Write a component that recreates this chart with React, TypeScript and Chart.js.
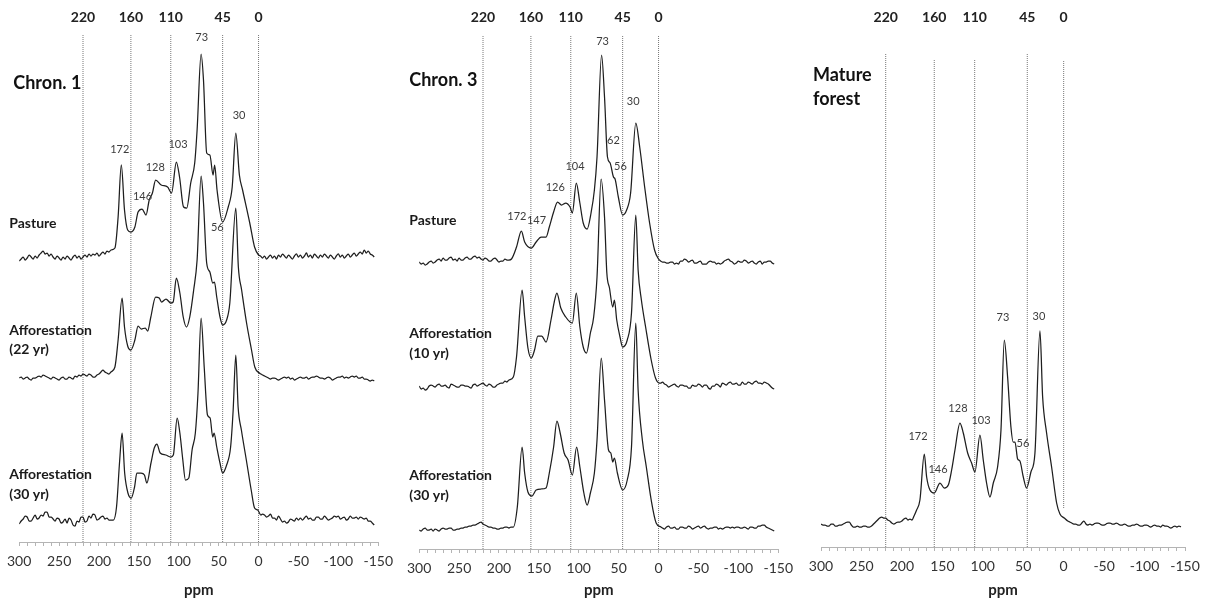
import React, { useEffect, useRef } from "react";
import { Chart, registerables } from "chart.js";

Chart.register(...registerables);

// ---------- data ----------
const markerPpm = [220, 160, 110, 45, 0];
const ppmMin = -150;
const ppmMax = 300;
const ppmStep = 10;

type Pt = [number, number]; // [ppm, intensity]

// shared baseline grids (ppm) for the flat, noisy parts of every spectrum
const baselineLeftPpm = [
  300, 297.5, 295, 292.5, 290, 287.5, 285, 282.5, 280, 277.5,
  275, 272.5, 270, 267.5, 265, 262.5, 260, 257.5, 255, 252.5,
  250, 247.5, 245, 242.5, 240, 237.5, 235, 232.5, 230, 227.5,
  225, 222.5, 220, 217.5, 215, 212.5, 210, 207.5, 205, 202.5,
  200, 197.5, 195, 192.5, 190, 187.5,
];
const baselineRightPpm = [
  -7.5, -10, -12.5, -15, -17.5, -20, -22.5, -25, -27.5, -30,
  -32.5, -35, -37.5, -40, -42.5, -45, -47.5, -50, -52.5, -55,
  -57.5, -60, -62.5, -65, -67.5, -70, -72.5, -75, -77.5, -80,
  -82.5, -85, -87.5, -90, -92.5, -95, -97.5, -100, -102.5, -105,
  -107.5, -110, -112.5, -115, -117.5, -120, -122.5, -125, -127.5, -130,
  -132.5, -135, -137.5, -140, -142.5, -145,
];

// ---- Chron. 1 / Pasture ----
const c1PastureLeft = [
  -4, -2, 0, -3, -1, 2, 0, -2, 1, -1,
  2, 4, 6, 3, 4, 1, 3, 0, -2, 1,
  -1, -3, 0, -2, 1, -1, -3, 0, 2, -1,
  1, -2, 0, 2, 0, 3, 1, 3, 2, 4,
  1, 3, 5, 3, 6, 5,
];
const c1PastureSignal: Pt[] = [
  [185, 7], [180, 9], [176, 40], [172, 92], [168, 47], [164, 27], [160, 25], [155, 30], [151, 45], [146, 48],
  [141, 42], [137, 57], [133, 64], [129, 77], [122, 72], [114, 70], [109, 64], [103, 95], [99, 80], [94, 50],
  [90, 49], [85, 74], [80, 94], [77, 127], [72, 203], [69, 177], [65, 104], [61, 102], [57, 82], [55, 92],
  [52, 67], [45, 35], [38, 50], [33, 70], [28.5, 124], [24, 82], [20, 67], [11, 34], [5, 10], [0, 2],
  [-2.5, 1], [-5, -1],
];
const c1PastureRight = [
  1, -2, 0, 2, -1, 1, -2, 2, 0, 3,
  1, -1, 2, 0, -2, 1, 3, 0, 2, -1,
  1, 4, 0, 2, -1, 3, 1, -1, 2, 0,
  3, 1, -1, 2, 0, -2, 1, 3, 0, 2,
  -1, 1, 3, 0, 2, 4, 1, 3, 5, 3,
  7, 4, 6, 3, 2, 0,
];

// ---- Chron. 1 / Afforestation (22 yr) ----
const c1Aff22Left = [
  0, 1, -1, 0, 1, -1, -2, 0, 0, 1,
  2, 1, 3, 2, 1, 0, -1, 1, 0, -1,
  -2, 0, 1, -1, -1, 1, 0, -1, 2, 1,
  3, 2, 4, 3, 2, 4, 3, 1, 1, 3,
  4, 6, 8, 6, 5, 4,
];
const c1Aff22Signal: Pt[] = [
  [185, 6], [180, 11], [176, 38], [171, 80], [168, 51], [164, 32], [160, 28], [155, 38], [151, 52], [147, 49],
  [142, 50], [139, 47], [135, 61], [129, 81], [124.5, 80], [121.5, 76], [116, 79], [110, 75], [107, 76],
  [103, 100], [98.6, 85], [94.4, 61], [90.3, 51], [86.2, 61], [81.3, 88], [77, 118], [72, 202], [69, 175],
  [65, 115], [61, 106], [57.4, 95], [55.3, 96], [52.4, 81], [48.3, 61], [45, 53], [40, 58], [36, 75],
  [28.5, 170], [25.3, 111], [21.2, 88], [15, 55], [8.8, 28], [4.7, 11], [-1, 5], [-3, 4], [-5, 3],
];
const c1Aff22Right = [
  2, 1, 0, -1, 0, 0, -1, -2, -1, 0,
  1, 0, 1, -1, 0, -2, -1, 0, 1, 0,
  0, 1, -1, 0, 1, 1, 2, 1, 0, 0,
  -1, 0, 1, 0, -2, -1, 0, 1, 1, 2,
  0, 1, 0, 1, 2, 1, 2, 0, 0, 1,
  -1, -1, -2, -3, -2, -3,
];

// ---- Chron. 1 / Afforestation (30 yr) ----
const c1Aff30Left = [
  -4, -1, 1, 4, 3, -1, -1, 2, 5, 1,
  2, 5, 4, 8, 8, 3, 3, 1, -1, 2,
  1, -3, -2, 1, -3, 2, 0, -5, -6, -1,
  -2, 3, 3, -2, -1, 4, 2, 6, 5, 0,
  1, 3, 4, 1, 2, 0,
];
const c1Aff30Signal: Pt[] = [
  [185, 0], [182, 0], [178, 13], [174, 60], [171, 87], [167.8, 47], [163.7, 27], [159.5, 22], [155.4, 33],
  [152.5, 47], [147.2, 47], [143, 45], [140, 37], [134.8, 57], [130.7, 72], [127.4, 76], [123.3, 67],
  [116.3, 65], [110, 63], [106.8, 65], [102, 102], [98.6, 87], [94.9, 60], [91.6, 40], [87.4, 42], [83.3, 70],
  [79.2, 87], [75.9, 127], [72, 202], [68.1, 153], [64, 105], [60.7, 102], [57.4, 83], [55.7, 87], [52.4, 73],
  [48.3, 57], [45, 47], [40, 55], [35, 73], [31.8, 110], [28.5, 165], [25.6, 113], [21.5, 90], [15.3, 60],
  [9.2, 30], [5, 12], [1, 10], [-3, 5], [-5, 6],
];
const c1Aff30Right = [
  5, 3, 4, 6, 2, 2, 0, 4, 1, -2,
  -1, -3, -2, 1, 0, -1, 2, 0, 2, 0,
  2, 4, 1, 2, 0, 0, 3, 3, 1, 1,
  4, 2, 0, 1, 2, 4, 3, 4, 1, 2,
  3, 0, 1, 4, 2, 2, 3, 1, 3, 2,
  1, 2, -1, -1, -3, -5,
];

// ---- Chron. 3 / Pasture ----
const c3PastureLeft = [
  0, -2, -1, -3, -2, 0, 1, -1, 0, 2,
  3, 1, 4, 2, 2, 4, 5, 2, 3, 1,
  4, 2, 2, 4, 5, 3, 3, 5, 6, 4,
  5, 3, 2, 4, 3, 1, 1, 3, 4, 2,
  0, 1, 1, 3, 2, 2,
];
const c3PastureSignal: Pt[] = [
  [184.3, 3], [178, 15], [171.9, 31], [167.8, 20], [159.5, 14], [153.4, 20], [147.2, 25], [141, 25],
  [136.9, 35], [131.5, 50], [126.6, 60], [121.6, 57], [116.3, 59], [110.9, 55], [108, 49], [103.1, 79],
  [98.6, 59], [94.4, 39], [89.5, 33], [84.6, 49], [80.4, 72], [77.1, 105], [71.4, 207], [67.7, 165],
  [64, 105], [60.7, 99], [56.5, 85], [54.5, 83], [50.4, 65], [45, 47], [40, 52], [35, 69], [28.5, 139],
  [23.6, 115], [17.4, 75], [11.2, 39], [5, 12], [0, 3], [-2.5, 1], [-5, 0],
];
const c3PastureRight = [
  0, -1, -1, 0, 0, -2, -1, -2, 1, 1,
  3, 2, 0, 1, 2, -1, -1, 0, 1, -2,
  -2, -2, 0, 1, 0, 0, -2, -1, -2, -1,
  1, 2, 3, 1, 0, -2, -1, 1, 0, 0,
  2, 1, -1, 0, 1, -1, -2, 0, 1, -2,
  0, 0, 1, 1, -1, -2,
];

// ---- Chron. 3 / Afforestation (10 yr) ----
const c3Aff10Left = [
  0, -3, -2, -4, -3, 0, 1, 0, -1, 1,
  2, 0, 0, 1, -1, -2, 2, 1, 0, -1,
  -1, 1, 1, 0, 0, -1, -2, 1, 2, 0,
  1, 2, 3, 1, 0, 2, 1, -1, -1, 1,
  2, 3, 3, 5, 4, 6,
];
const c3Aff10Signal: Pt[] = [
  [182, 9], [178, 29], [171, 96], [167.8, 69], [163.7, 38], [159.5, 28], [155.4, 36], [151.3, 50],
  [146.4, 50], [141, 44], [134.8, 66], [130.7, 84], [127.4, 93], [122.5, 78], [116.3, 69], [110.9, 64],
  [108, 63], [103.1, 93], [98.6, 59], [94.4, 39], [90.3, 33], [85.4, 53], [81.3, 69], [77.1, 109], [72, 207],
  [67.7, 169], [64.8, 113], [61.5, 98], [57.4, 79], [55.3, 86], [52.4, 66], [48.3, 49], [45, 39], [39.2, 46],
  [33.9, 73], [28.5, 171], [25.6, 116], [21.5, 86], [16.2, 59], [9.2, 26], [3.8, 8], [-1, 3], [-3, 3], [-5, 4],
];
const c3Aff10Right = [
  2, 1, -1, 0, 1, 2, 0, -1, 1, 1,
  0, 0, -2, -2, 1, 0, 0, 2, 1, -1,
  1, 1, -2, -3, 0, 0, 2, 1, -1, 3,
  2, 1, 3, 4, 2, 2, 3, 1, 1, 4,
  2, 2, 4, 3, 2, 4, 5, 3, 3, 2,
  4, 3, 2, 0, -2, -3,
];

// ---- Chron. 3 / Afforestation (30 yr) ----
const c3Aff30Left = [
  -1, -2, 0, 1, -1, -1, 0, -2, 0, -1,
  -2, 0, 1, 0, 0, 1, 1, -1, -1, 0,
  0, 1, 1, 2, 2, 3, 3, 4, 4, 5,
  6, 7, 5, 4, 3, 2, 2, 1, 1, 0,
  0, 1, 1, 2, 2, 1,
];
const c3Aff30Signal: Pt[] = [
  [185, 2], [182, 2], [177, 22], [171, 82], [167.8, 56], [163.7, 37], [158.7, 33], [153.4, 39], [147.2, 40],
  [141, 41], [136.9, 56], [131.5, 82], [127.4, 108], [123.3, 96], [118.3, 76], [113.4, 69], [108, 54],
  [102.7, 82], [98.6, 62], [93.6, 36], [89.5, 24], [85.4, 36], [80.4, 56], [77.1, 89], [71.8, 171],
  [67.7, 129], [62.7, 79], [59.8, 76], [57.4, 67], [55.3, 71], [51.6, 56], [45, 39], [39.2, 49], [33.9, 82],
  [28.5, 206], [25.6, 139], [20.3, 89], [15.3, 62], [9.2, 29], [3, 6], [-3, 2], [-5, 1],
];
const c3Aff30Right = [
  0, 2, 3, 1, 1, 2, 0, 0, 2, 2,
  1, 1, 3, 2, 0, 1, 2, 3, 1, 2,
  3, 1, 0, 1, 1, 2, 2, 0, 1, 0,
  1, 2, 2, 1, 2, 1, 2, 2, 1, 1,
  2, 1, 0, 2, 2, 1, 1, 3, 3, 4,
  4, 2, 1, 0, -1, -2,
];

// ---- Mature forest ----
const matureLeft = [
  1, 0, 0, -1, -1, 1, 1, -1, -1, 0,
  0, 1, 2, 3, 3, 0, -2, -2, -1, -2,
  -2, -1, -1, -2, -2, -1, 1, 3, 5, 7,
  8, 7, 7, 5, 4, 2, 1, 2, 3, 3,
  4, 6, 7, 5, 6, 5,
];
const matureSignal: Pt[] = [
  [185, 9], [181.8, 15], [177.7, 25], [172.3, 71], [169.4, 48], [165.3, 35], [160, 32], [152.9, 42],
  [147.6, 37], [142.6, 40], [138.5, 55], [134.4, 75], [128.2, 102], [124.1, 92], [118.7, 72], [113.8, 62],
  [109.7, 53], [103.5, 90], [99.4, 65], [95.3, 42], [91.1, 28], [87, 42], [81.7, 58], [77.5, 95], [73.4, 185],
  [69.3, 148], [65.2, 98], [62.3, 83], [60.2, 83], [56.9, 66], [54.1, 64], [49.9, 48], [45.8, 37], [40.5, 53],
  [35.5, 72], [29.3, 194], [26, 128], [21.1, 92], [14.9, 58], [8.7, 22], [4.6, 11], [-0.7, 7], [-5, 4],
];
const matureRight = [
  3, 2, 1, 1, 0, 0, 2, 4, 1, 0,
  1, 0, 1, 2, 2, 1, 0, 0, 1, 2,
  2, 1, 1, 2, 1, 0, 0, 1, 0, -1,
  -1, 0, 0, 1, 0, -1, -1, 0, 0, -1,
  -2, -1, 0, -1, -1, -2, 0, -1, -1, -2,
  -3, -2, -1, -2, -1, -2,
];

type Spectrum = { left: number[]; signal: Pt[]; right: number[] };

function spectrumPoints(s: Spectrum) {
  const pts: { x: number; y: number }[] = [];
  baselineLeftPpm.forEach((p, i) => {
    if (s.left[i] !== undefined) pts.push({ x: p, y: s.left[i] });
  });
  s.signal.forEach(([x, y]) => pts.push({ x, y }));
  baselineRightPpm.forEach((p, i) => {
    if (s.right[i] !== undefined) pts.push({ x: p, y: s.right[i] });
  });
  return pts;
}

// ---------- layout / styles ----------
const PAGE_H = 605;
const TOP_BAND = 30;
const FONT = "Lato, 'Open Sans', sans-serif";

type Kind = "title" | "sample" | "peak";
type Label = { text: string; ppm: number; h: number; kind: Kind };

interface Panel {
  id: string;
  left: number;
  width: number;
  padLeft: number;
  padRight: number;
  axisY: number;
  spectra: { spec: Spectrum; offset: number }[];
  lines: [number, number][];
  labels: Label[];
}

const panels: Panel[] = [
  {
    id: "chron1",
    left: 0,
    width: 400,
    padLeft: 18,
    padRight: 18,
    axisY: 542,
    spectra: [
      { spec: { left: c1PastureLeft, signal: c1PastureSignal, right: c1PastureRight }, offset: 285 },
      { spec: { left: c1Aff22Left, signal: c1Aff22Signal, right: c1Aff22Right }, offset: 164 },
      { spec: { left: c1Aff30Left, signal: c1Aff30Signal, right: c1Aff30Right }, offset: 22 },
    ],
    lines: [[0, 507], [0, 507], [0, 507], [0, 507], [0, 507]],
    labels: [
      { text: "Chron. 1", ppm: 307.4, h: 459, kind: "title" },
      { text: "Pasture", ppm: 312.4, h: 319, kind: "sample" },
      { text: "Afforestation", ppm: 312.4, h: 212, kind: "sample" },
      { text: "(22 yr)", ppm: 312.4, h: 193, kind: "sample" },
      { text: "Afforestation", ppm: 312.4, h: 68, kind: "sample" },
      { text: "(30 yr)", ppm: 312.4, h: 48, kind: "sample" },
      { text: "172", ppm: 173.9, h: 393, kind: "peak" },
      { text: "146", ppm: 145.5, h: 346, kind: "peak" },
      { text: "128", ppm: 129.4, h: 375, kind: "peak" },
      { text: "103", ppm: 101, h: 398, kind: "peak" },
      { text: "73", ppm: 71.3, h: 505, kind: "peak" },
      { text: "30", ppm: 24.4, h: 427, kind: "peak" },
      { text: "56", ppm: 51.6, h: 315, kind: "peak" },
    ],
  },
  {
    id: "chron3",
    left: 400,
    width: 400,
    padLeft: 18,
    padRight: 18,
    axisY: 549,
    spectra: [
      { spec: { left: c3PastureLeft, signal: c3PastureSignal, right: c3PastureRight }, offset: 287 },
      { spec: { left: c3Aff10Left, signal: c3Aff10Signal, right: c3Aff10Right }, offset: 163 },
      { spec: { left: c3Aff30Left, signal: c3Aff30Signal, right: c3Aff30Right }, offset: 20 },
    ],
    lines: [[0, 513], [0, 513], [0, 513], [0, 513], [0, 513]],
    labels: [
      { text: "Chron. 3", ppm: 312.4, h: 469, kind: "title" },
      { text: "Pasture", ppm: 312.4, h: 329, kind: "sample" },
      { text: "Afforestation", ppm: 312.4, h: 216, kind: "sample" },
      { text: "(10 yr)", ppm: 312.4, h: 196, kind: "sample" },
      { text: "Afforestation", ppm: 312.4, h: 74, kind: "sample" },
      { text: "(30 yr)", ppm: 312.4, h: 54, kind: "sample" },
      { text: "73", ppm: 70.1, h: 508, kind: "peak" },
      { text: "30", ppm: 31.8, h: 448, kind: "peak" },
      { text: "62", ppm: 56.5, h: 409, kind: "peak" },
      { text: "56", ppm: 47.8, h: 383, kind: "peak" },
      { text: "104", ppm: 104.7, h: 383, kind: "peak" },
      { text: "126", ppm: 129.4, h: 362, kind: "peak" },
      { text: "172", ppm: 177.6, h: 333, kind: "peak" },
      { text: "147", ppm: 152.9, h: 329, kind: "peak" },
    ],
  },
  {
    id: "mature",
    left: 800,
    width: 412,
    padLeft: 21,
    padRight: 27,
    axisY: 547,
    spectra: [{ spec: { left: matureLeft, signal: matureSignal, right: matureRight }, offset: 22 }],
    lines: [[0, 494], [0, 487], [0, 487], [0, 494], [39, 487]],
    labels: [
      { text: "Mature", ppm: 309.9, h: 472, kind: "title" },
      { text: "forest", ppm: 309.9, h: 448, kind: "title" },
      { text: "172", ppm: 180.1, h: 111, kind: "peak" },
      { text: "146", ppm: 155.4, h: 78, kind: "peak" },
      { text: "128", ppm: 130.7, h: 139, kind: "peak" },
      { text: "103", ppm: 102.2, h: 127, kind: "peak" },
      { text: "73", ppm: 75, h: 230, kind: "peak" },
      { text: "30", ppm: 30.5, h: 231, kind: "peak" },
      { text: "56", ppm: 50.3, h: 104, kind: "peak" },
    ],
  },
];

const labelFont: Record<Kind, string> = {
  title: `bold 18px ${FONT}`,
  sample: `bold 14px ${FONT}`,
  peak: `11px ${FONT}`,
};
const labelColor: Record<Kind, string> = {
  title: "#111",
  sample: "#1a1a1a",
  peak: "#3c3c3c",
};

function textPlugin(panel: Panel) {
  return {
    id: "panelText",
    afterDraw(chart: any) {
      const { ctx } = chart;
      const xs = chart.scales.x;
      const ys = chart.scales.y;
      ctx.save();
      for (const l of panel.labels) {
        ctx.font = labelFont[l.kind];
        ctx.fillStyle = labelColor[l.kind];
        ctx.textAlign = l.kind === "peak" ? "center" : "left";
        ctx.textBaseline = "middle";
        ctx.fillText(l.text, xs.getPixelForValue(l.ppm), ys.getPixelForValue(l.h));
      }
      ctx.restore();
    },
  };
}

function buildConfig(panel: Panel): any {
  const datasets: any[] = [
    ...panel.spectra.map((s) => ({
      data: spectrumPoints(s.spec).map((p) => ({ x: p.x, y: p.y + s.offset })),
      borderColor: "#1e1e1e",
      borderWidth: 1.25,
      pointRadius: 0,
      cubicInterpolationMode: "monotone",
      fill: false,
      order: 1,
    })),
    ...panel.lines.map(([from, to], i) => ({
      data: [
        { x: markerPpm[i], y: from },
        { x: markerPpm[i], y: to },
      ],
      borderColor: "#777",
      borderWidth: 1,
      borderDash: [1, 1],
      pointRadius: 0,
      fill: false,
      order: 2,
    })),
  ];

  return {
    type: "line",
    data: { datasets },
    plugins: [textPlugin(panel)],
    options: {
      responsive: false,
      animation: false,
      devicePixelRatio: 1,
      layout: { padding: { left: panel.padLeft, right: panel.padRight, top: 0, bottom: 0 } },
      plugins: { legend: { display: false }, tooltip: { enabled: false } },
      events: [],
      scales: {
        x: {
          type: "linear",
          position: "bottom",
          min: ppmMin,
          max: ppmMax,
          reverse: true,
          afterFit: (s: any) => {
            s.height = PAGE_H - panel.axisY;
          },
          ticks: {
            stepSize: ppmStep,
            autoSkip: false,
            maxRotation: 0,
            minRotation: 0,
            padding: 7,
            color: "#333",
            font: { family: FONT, size: 14 },
            callback: (v: any) => (Number(v) % 50 === 0 ? String(v) : ""),
          },
          grid: { drawOnChartArea: false, drawTicks: true, tickLength: 4, color: "#b4b4b4" },
          border: { display: true, color: "#b4b4b4", width: 1 },
          title: {
            display: true,
            text: "ppm",
            color: "#222",
            font: { family: FONT, size: 15, weight: "bold" },
            padding: { top: 0, bottom: 6 },
          },
        },
        xTop: {
          type: "linear",
          position: "top",
          min: ppmMin,
          max: ppmMax,
          reverse: true,
          afterBuildTicks: (s: any) => {
            s.ticks = markerPpm.map((v) => ({ value: v }));
          },
          afterFit: (s: any) => {
            s.height = TOP_BAND;
          },
          ticks: {
            autoSkip: false,
            maxRotation: 0,
            minRotation: 0,
            padding: 4,
            color: "#222",
            font: { family: FONT, size: 14, weight: "bold" },
          },
          grid: { display: false, drawTicks: false },
          border: { display: false },
        },
        y: { display: false, min: 0, max: panel.axisY - TOP_BAND },
      },
    },
  };
}

function PanelChart({ panel }: { panel: Panel }) {
  const ref = useRef<HTMLCanvasElement>(null);
  useEffect(() => {
    if (!ref.current) return;
    const chart = new Chart(ref.current, buildConfig(panel));
    return () => chart.destroy();
  }, [panel]);
  return (
    <canvas
      ref={ref}
      width={panel.width}
      height={PAGE_H}
      style={{ position: "absolute", left: panel.left, top: 0, width: panel.width, height: PAGE_H }}
    />
  );
}

export default function App() {
  return (
    <div
      style={{
        position: "absolute",
        left: 0,
        top: 0,
        width: 1212,
        height: PAGE_H,
        background: "#fff",
        overflow: "hidden",
      }}
    >
      {panels.map((p) => (
        <PanelChart key={p.id} panel={p} />
      ))}
    </div>
  );
}
